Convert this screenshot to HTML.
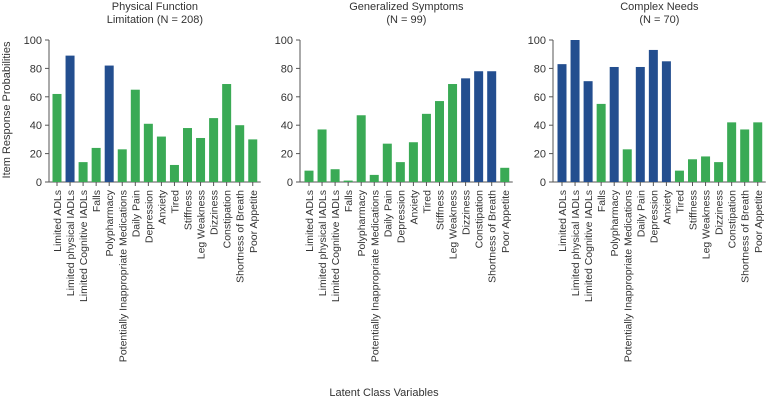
<!DOCTYPE html>
<html><head><meta charset="utf-8"><style>
body{margin:0;background:#fff;}
svg{font-family:"Liberation Sans",Arial,sans-serif;}
</style></head><body>
<svg id="chart" width="767" height="400" xmlns="http://www.w3.org/2000/svg">
<text x="10" y="110" transform="rotate(-90 10 110)" text-anchor="middle" font-size="11" fill="#333">Item Response Probabilities</text>
<text x="384" y="396" text-anchor="middle" font-size="11" fill="#333">Latent Class Variables</text>
</svg>
<script>
const categories=["Limited ADLs","Limited physical IADLs","Limited Cognitive IADLs","Falls","Polypharmacy","Potentially Inappropriate Medications","Daily Pain","Depression","Anxiety","Tired","Stiffness","Leg Weakness","Dizziness","Constipation","Shortness of Breath","Poor Appetite"];
const panelTitles=[["Physical Function","Limitation (N = 208)"],["Generalized Symptoms","(N = 99)"],["Complex Needs","(N = 70)"]];
const physicalValues=[62,89,14,24,82,23,65,41,32,12,38,31,45,69,40,30];
const generalizedValues=[8,37,9,1,47,5,27,14,28,48,57,69,73,78,78,10];
const complexValues=[83,100,71,55,81,23,81,93,85,8,16,18,14,42,37,42];
const physicalBlue=[1,4];
const generalizedBlue=[12,13,14];
const complexBlue=[0,1,2,4,6,7,8];
const yTicks=[0,20,40,60,80,100];
const series=[physicalValues,generalizedValues,complexValues];
const blues=[physicalBlue,generalizedBlue,complexBlue];
const axisX=[49,300,553], firstC=[57,309,562], step=13.05;
const y0=182, y100=40;
const yScale=v=>y0-(y0-y100)*v/100;
const svg=document.getElementById('chart');
const NS='http://www.w3.org/2000/svg';
function mk(t,a,p){const e=document.createElementNS(NS,t);for(const k in a)e.setAttribute(k,a[k]);(p||svg).appendChild(e);return e;}
series.forEach((vals,p)=>{
  const g=mk('g',{});
  
  
  const xS=i=>firstC[p]+i*step;
  const endX=xS(15)+8;
  panelTitles[p].forEach((t,j)=>{
    const tx=mk('text',{x:(axisX[p]+endX)/2,y:10+j*13,'text-anchor':'middle','font-size':11,fill:'#333'},g);
    tx.textContent=t;
    
    
  });
  const ya=mk('line',{x1:axisX[p],x2:axisX[p],y1:y100,y2:y0,stroke:'#555','stroke-width':1},g);
  
  
  const xa=mk('line',{x1:axisX[p]-3,x2:endX,y1:y0,y2:y0,stroke:'#555','stroke-width':1},g);
  
  
  yTicks.forEach(v=>{
    mk('line',{x1:axisX[p]-4,x2:axisX[p],y1:yScale(v),y2:yScale(v),stroke:'#555'},g);
    const t=mk('text',{x:axisX[p]-7,y:yScale(v)+4,'text-anchor':'end','font-size':11,fill:'#333'},g);
    t.textContent=v;
    
    
  });
  vals.forEach((v,i)=>{
    const cx=xS(i);
    const r=mk('rect',{x:cx-4.5,y:yScale(v),width:9,height:y0-yScale(v),fill:blues[p].includes(i)?'#234e8f':'#3aaa55'},g);
    
    
    mk('line',{x1:cx,x2:cx,y1:y0,y2:y0+4,stroke:'#555'},g);
    const t=mk('text',{x:cx+4,y:190,'text-anchor':'end','font-size':10.5,fill:'#333',transform:`rotate(-90 ${cx+4} 190)`},g);
    t.textContent=categories[i];
    
    
  });
});
</script>
</body></html>
